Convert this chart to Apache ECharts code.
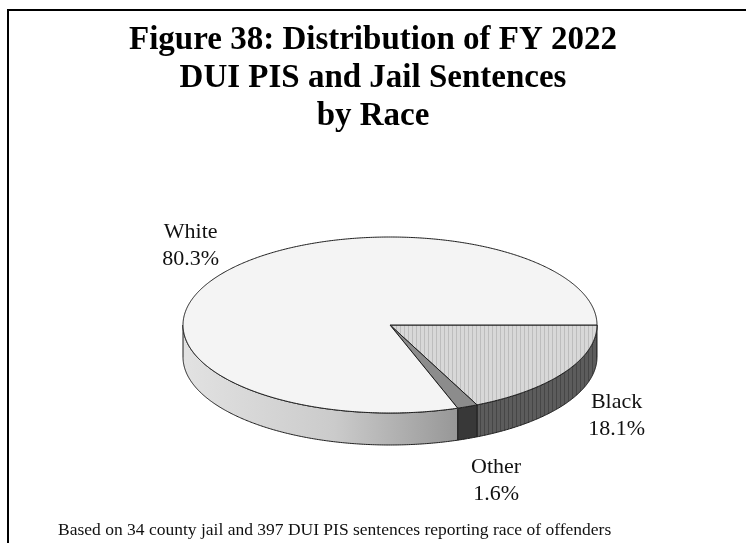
<!DOCTYPE html>
<html>
<head>
<meta charset="utf-8">
<script src="https://cdn.jsdelivr.net/npm/echarts@6/dist/echarts.min.js"></script>
<style>
  html, body { margin: 0; padding: 0; background: #ffffff; overflow: hidden; }
  #frame { position: absolute; left: 7px; top: 9px; width: 780px; height: 580px;
           border-top: 2px solid #000; border-left: 2px solid #000; box-sizing: border-box; }
  #chart { position: absolute; left: 0; top: 0; width: 746px; height: 543px; }
</style>
</head>
<body>
<div id="frame"></div>
<div id="chart"></div>
<script>
// Slices in drawing order, clockwise from the 3 o'clock position
const categories = ['Black', 'Other', 'White'];
const shares = [18.1, 1.6, 80.3];

const titleLines = ['Figure 38: Distribution of FY 2022', 'DUI PIS and Jail Sentences', 'by Race'];
const footnote = 'Based on 34 county jail and 397 DUI PIS sentences reporting race of offenders';

// Pie geometry (tilted disc) and label placement
const L = { cx: 390, cy: 325, rx: 207, ry: 88, depth: 32, labelDx: 50, labelDy: 48, labelShiftX: 10 };

// Fill styles per slice
function stripeCanvas(base, line, step) {
  const c = document.createElement('canvas');
  c.width = step; c.height = 8;
  const g = c.getContext('2d');
  g.fillStyle = base; g.fillRect(0, 0, step, 8);
  g.fillStyle = line; g.fillRect(0, 0, 1, 8);
  return c;
}
const pattern = (canvas) => ({ type: 'pattern', image: canvas, repeat: 'repeat' });

const topFills = [
  pattern(stripeCanvas('#d8d8d8', '#bdbdbd', 4)),
  '#8c8c8c',
  '#f4f4f4'
];
const sideFills = [
  pattern(stripeCanvas('#5c5c5c', '#464646', 4)),
  '#383838',
  new echarts.graphic.LinearGradient(0, 0, 1, 0, [
    { offset: 0, color: '#e2e2e2' },
    { offset: 0.55, color: '#cbcbcb' },
    { offset: 1, color: '#979797' }
  ])
];

// Angles of each slice derived from the shares
const total = shares.reduce((a, b) => a + b, 0);
const startAngles = [];
const endAngles = [];
let acc = 0;
shares.forEach((v) => {
  startAngles.push(acc / total * Math.PI * 2);
  acc += v;
  endAngles.push(acc / total * Math.PI * 2);
});

function arcPoints(a0, a1, dy) {
  const pts = [];
  const n = Math.max(2, Math.ceil((a1 - a0) / (Math.PI / 360)));
  for (let i = 0; i <= n; i++) {
    const t = a0 + (a1 - a0) * i / n;
    pts.push([L.cx + L.rx * Math.cos(t), L.cy + L.ry * Math.sin(t) + dy]);
  }
  return pts;
}

function renderSide(params) {
  const i = params.dataIndex;
  const s = Math.max(startAngles[i], 0);
  const e = Math.min(endAngles[i], Math.PI);
  if (s >= e) return null;
  const topArc = arcPoints(s, e, 0);
  const botArc = arcPoints(s, e, L.depth).reverse();
  return {
    type: 'polygon',
    shape: { points: topArc.concat(botArc) },
    style: { fill: sideFills[i], stroke: '#1e1e1e', lineWidth: 1 }
  };
}

function renderTop(params) {
  const i = params.dataIndex;
  const pts = [[L.cx, L.cy]].concat(arcPoints(startAngles[i], endAngles[i], 0));
  return {
    type: 'polygon',
    shape: { points: pts },
    style: { fill: topFills[i], stroke: '#1e1e1e', lineWidth: 1 }
  };
}

function renderLabel(params, api) {
  const i = params.dataIndex;
  const m = (startAngles[i] + endAngles[i]) / 2;
  const s = Math.sin(m);
  const x = L.cx + (L.rx + L.labelDx) * Math.cos(m) + L.labelShiftX;
  const y = L.cy + (L.ry + L.labelDy + (s > 0 ? L.depth : 0)) * s;
  return {
    type: 'text',
    x: x, y: y,
    style: {
      text: categories[i] + '\n' + api.value(0).toFixed(1) + '%',
      fontFamily: '"Liberation Serif", "Times New Roman", serif',
      fontSize: 22,
      lineHeight: 27,
      fill: '#111',
      align: 'center',
      verticalAlign: 'middle'
    }
  };
}

const seriesData = shares.map((v, i) => ({ name: categories[i], value: [v] }));

const chart = echarts.init(document.getElementById('chart'), null, { renderer: 'canvas' });
chart.setOption({
  animation: false,
  title: [
    {
      text: titleLines.join('\n'),
      left: 'center',
      top: 16,
      textStyle: {
        fontFamily: '"Liberation Serif", "Times New Roman", serif',
        fontWeight: 'bold',
        fontSize: 33,
        lineHeight: 38,
        color: '#000'
      }
    },
    {
      text: footnote,
      left: 53,
      top: 516,
      textStyle: {
        fontFamily: '"Liberation Serif", "Times New Roman", serif',
        fontWeight: 'normal',
        fontSize: 17.5,
        color: '#111'
      }
    }
  ],
  series: [
    { type: 'custom', name: 'side', coordinateSystem: 'none', z: 2, silent: true,
      data: seriesData, renderItem: renderSide },
    { type: 'custom', name: 'top', coordinateSystem: 'none', z: 3, silent: true,
      data: seriesData, renderItem: renderTop },
    { type: 'custom', name: 'labels', coordinateSystem: 'none', z: 4, silent: true,
      data: seriesData, renderItem: renderLabel }
  ]
});
</script>
</body>
</html>
